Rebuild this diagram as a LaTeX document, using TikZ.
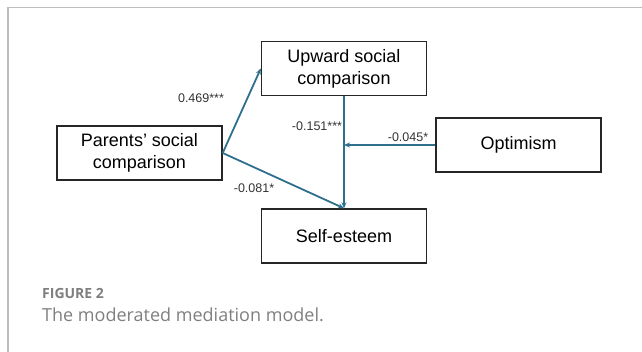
\documentclass[tikz,border=0pt]{standalone}
\usepackage{fontspec}
\setmainfont{Liberation Sans}
\newfontfamily\capfont{Open Sans}
\usetikzlibrary{arrows.meta,positioning,calc}
\definecolor{pathblue}{HTML}{2E6F8E}
\definecolor{framegray}{HTML}{BDBDBD}
\definecolor{capgray}{HTML}{7F7F7F}
\begin{document}
\begin{tikzpicture}
[x=1pt,y=-1pt,
 box/.style={draw=black!85,line width=1.4pt,minimum width=165pt,minimum height=54pt,
   align=center,inner sep=0pt,font=\fontsize{18}{22}\selectfont},
 coef/.style={font=\fontsize{12.5}{14}\selectfont,text=black!80,inner sep=0pt},
 link/.style={draw=pathblue,line width=1.8pt,-{Stealth[length=6pt,width=5pt]}}]
\useasboundingbox (0,0) rectangle (642,352);
\draw[framegray,line width=1.2pt] (8,352) -- (8,7.5) -- (642,7.5);
\node[box] (upw) at (344,68.5) {Upward social\\comparison};
\node[box] (psc) at (139.5,153) {Parents’ social\\comparison};
\node[box] (opt) at (518.5,145) {Optimism};
\node[box] (se) at (344,236) {Self-esteem};
\coordinate (m) at (upw.south |- opt.west);
\draw[link] (psc.east) -- (upw.west);
\draw[link] (psc.east) -- (se.north);
\draw[link] (upw.south) -- (se.north);
\draw[link] (opt.west) -- (m);
\node[coef] (a) at (201,98) {0.469***};
\node[coef] (b) at (317,126) {-0.151***};
\node[coef] (c) at (408,137) {-0.045*};
\node[coef] (d) at (254,188) {-0.081*};
\node[anchor=west,inner sep=0pt,text=capgray,font=\capfont\fontsize{14}{16}\selectfont\bfseries] (fig) at (42,293) {FIGURE 2};
\node[anchor=west,inner sep=0pt,text=capgray,font=\capfont\fontsize{18}{20}\selectfont] (cap) at (42,315) {The moderated mediation model.};
\end{tikzpicture}
\end{document}
